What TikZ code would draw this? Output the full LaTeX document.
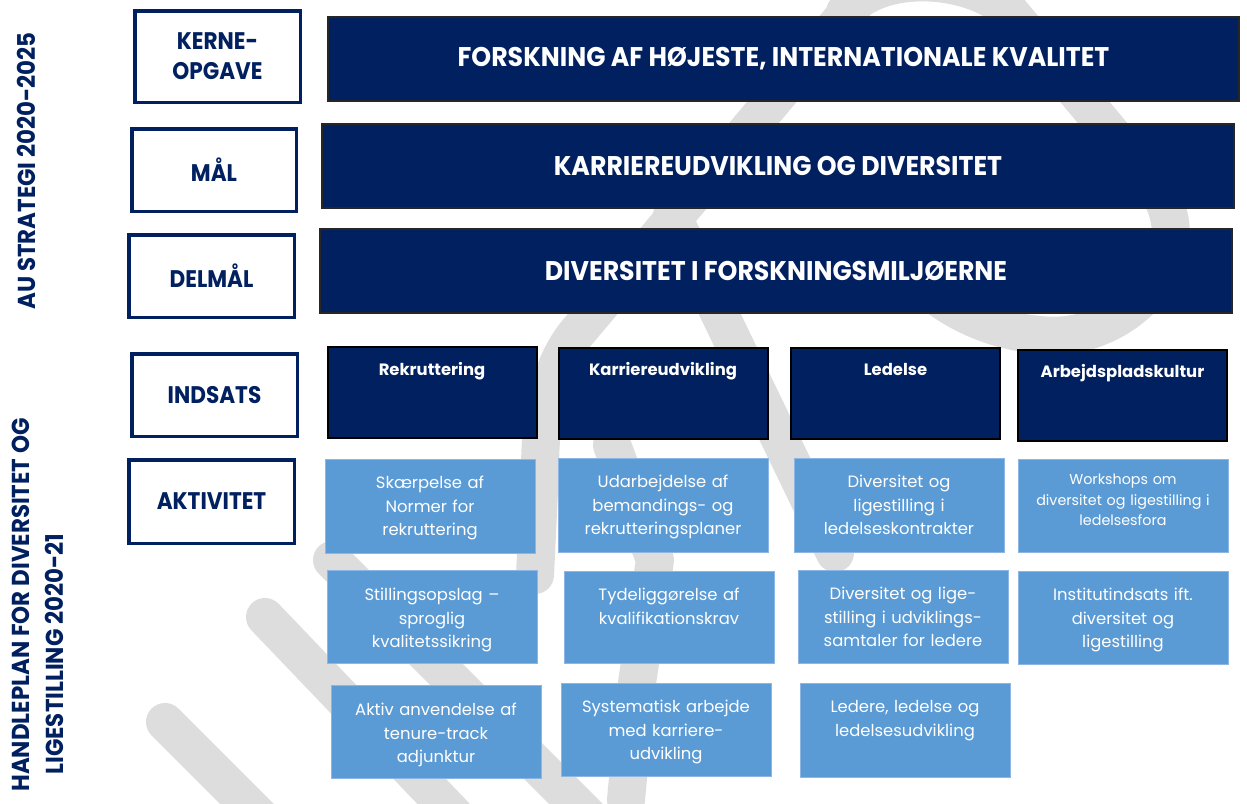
\documentclass[tikz,border=0pt]{standalone}
\usepackage{fontspec}
\setmainfont{Poppins}
\newfontfamily\headfont[FakeStretch=0.9]{Poppins}
\newfontfamily\barfont[FakeStretch=0.935]{Poppins}
\definecolor{navy}{HTML}{002060}
\definecolor{actblue}{HTML}{5B9BD5}
\definecolor{actedge}{HTML}{8DB6E6}
\definecolor{wmgrey}{HTML}{DDDDDD}
\begin{document}
\begin{tikzpicture}[x=1pt,y=-1pt,
  wm/.style={draw=wmgrey, line width=38pt, line cap=round, line join=round},
  lbl/.style={draw=navy, line width=3.5pt, fill=white, inner sep=0pt, text=navy, align=center,
    font=\headfont\bfseries\fontsize{24}{30}\selectfont},
  bar/.style={fill=navy, draw=black!85, line width=1.6pt, inner sep=0pt, text=white,
    font=\barfont\bfseries\fontsize{27}{32}\selectfont},
  ind/.style={fill=navy, draw=black, line width=2pt, inner sep=0pt, minimum width=209pt, minimum height=91pt},
  indtxt/.style={text=white, font=\bfseries\fontsize{16.4}{20}\selectfont, anchor=base, inner sep=0pt},
  act/.style={fill=actblue, draw=actedge, line width=1pt, inner sep=0pt, minimum width=210pt, minimum height=93pt},
  acttxt/.style={text=white, font=\fontsize{16.4}{23.5}\selectfont, align=center, anchor=base,
    inner sep=0pt, text width=205pt},
  actsmall/.style={acttxt, font=\fontsize{14.3}{20.5}\selectfont},
  side/.style={rotate=90, anchor=base, inner sep=0pt, text=navy, font=\barfont\bfseries\fontsize{24.5}{30}\selectfont}
]
\useasboundingbox (0,0) rectangle (1247,803);
\fill[white] (0,0) rectangle (1247,803);

% watermark
\draw[wm] (868,-12) -- (575,335) .. controls (548,370) and (540,420) .. (540,470) -- (535,575);
\draw[wm] (672,215) -- (835,553);
\draw[wm] (612,445) -- (655,560) -- (636,690) -- (626,800);
\draw[wm] (845,12) .. controls (880,-30) and (970,-25) .. (1010,12) -- (1150,180)
  .. controls (1210,250) and (1130,345) .. (1040,335) .. controls (980,330) and (930,300) .. (900,260);
\draw[wm] (165,722) -- (320,877);
\draw[wm] (265,617) -- (480,842);
\draw[wm] (332,560) -- (620,848);

% side titles
\node[side] (aus) at (35,171) {AU STRATEGI 2020-2025};
\node[side] (hp1) at (29,605) {HANDLEPLAN FOR DIVERSITET OG};
\node[side] (hp2) at (63,654) {LIGESTILLING 2020-21};

% left labels
\node[lbl, minimum width=165.5pt, minimum height=91.5pt] (kerne) at (217.5,56.5) {KERNE-\\OPGAVE};
\node[lbl, minimum width=164.5pt, minimum height=82.5pt] (maal) at (214,170) {MÅL};
\node[lbl, minimum width=165.5pt, minimum height=82.5pt] (delmaal) at (211.5,276) {DELMÅL};
\node[lbl, minimum width=165.5pt, minimum height=82.5pt] (indsats) at (214.5,395) {INDSATS};
\node[lbl, minimum width=165.5pt, minimum height=83.5pt] (aktivitet) at (211.5,501.5) {AKTIVITET};

% top bars
\node[bar, minimum width=911pt, minimum height=84.5pt] (b1) at (783.5,59) {FORSKNING AF HØJESTE, INTERNATIONALE KVALITET};
\node[bar, minimum width=912pt, minimum height=84.5pt] (b2) at (778,166) {KARRIEREUDVIKLING OG DIVERSITET};
\node[bar, minimum width=912pt, minimum height=84.5pt] (b3) at (776,271) {DIVERSITET I FORSKNINGSMILJØERNE};

% indsats boxes
\node[ind] (i1) at (432,392.5) {};
\node[ind] (i2) at (663,393) {};
\node[ind] (i3) at (895.5,393) {};
\node[ind] (i4) at (1122.5,395) {};
\node[indtxt] (t1) at ([yshift=-29pt]i1.north) {Rekruttering};
\node[indtxt] (t2) at ([yshift=-29pt]i2.north) {Karriereudvikling};
\node[indtxt] (t3) at ([yshift=-29pt]i3.north) {Ledelse};
\node[indtxt] (t4) at ([yshift=-29pt]i4.north) {Arbejdspladskultur};

% activity boxes
\node[act, minimum height=94pt] (a11) at (430,506) {};
\node[act, minimum height=94pt] (a12) at (663,505) {};
\node[act, minimum height=94pt] (a13) at (899,505) {};
\node[act] (a14) at (1123,505.5) {};
\node[act] (a21) at (432,616.5) {};
\node[act, minimum height=92pt] (a22) at (669,617) {};
\node[act] (a23) at (903,616.5) {};
\node[act] (a24) at (1123,617.5) {};
\node[act] (a31) at (436,731.5) {};
\node[act] (a32) at (666,729.5) {};
\node[act, minimum height=94pt] (a33) at (905,730) {};

\node[acttxt] (x11) at ([yshift=-30pt]a11.north) {Skærpelse af\\Normer for\\rekruttering};
\node[acttxt] (x12) at ([yshift=-30pt]a12.north) {Udarbejdelse af\\bemandings- og\\rekrutteringsplaner};
\node[acttxt] (x13) at ([yshift=-30pt]a13.north) {Diversitet og\\ligestilling i\\ledelseskontrakter};
\node[actsmall] (x14) at ([yshift=-26pt]a14.north) {Workshops om\\diversitet og ligestilling i\\ledelsesfora};
\node[acttxt] (x21) at ([yshift=-31pt]a21.north) {Stillingsopslag –\\sproglig\\kvalitetssikring};
\node[acttxt] (x22) at ([yshift=-30pt]a22.north) {Tydeliggørelse af\\kvalifikationskrav};
\node[acttxt] (x23) at ([yshift=-30pt]a23.north) {Diversitet og lige-\\stilling i udviklings-\\samtaler for ledere};
\node[acttxt] (x24) at ([yshift=-30pt]a24.north) {Institutindsats ift.\\diversitet og\\ligestilling};
\node[acttxt] (x31) at ([yshift=-31pt]a31.north) {Aktiv anvendelse af\\tenure-track\\adjunktur};
\node[acttxt] (x32) at ([yshift=-30pt]a32.north) {Systematisk arbejde\\med karriere-\\udvikling};
\node[acttxt] (x33) at ([yshift=-30pt]a33.north) {Ledere, ledelse og\\ledelsesudvikling};
\end{tikzpicture}
\end{document}
